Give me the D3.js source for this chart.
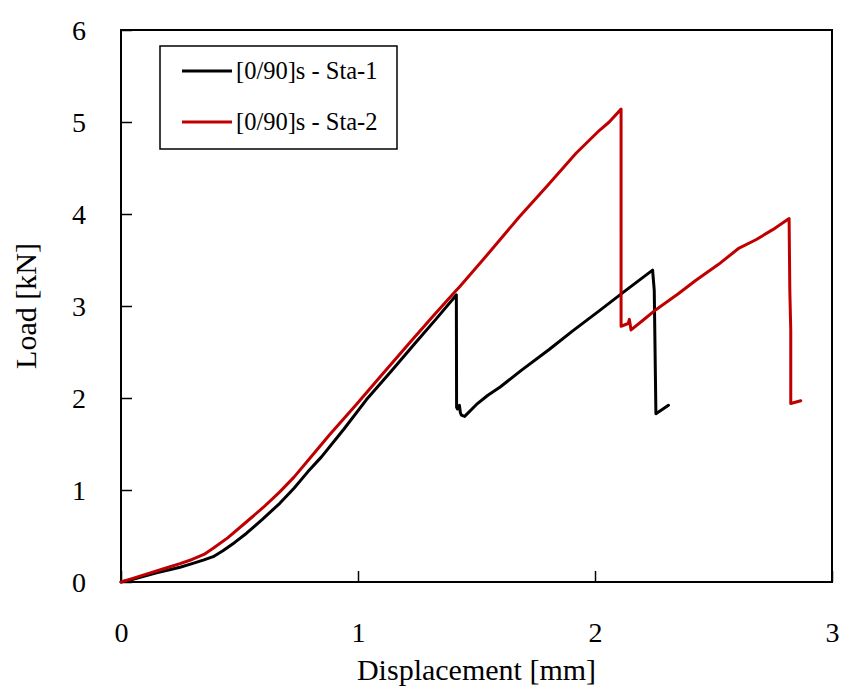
<!DOCTYPE html>
<html><head><meta charset="utf-8">
<script src="https://cdn.jsdelivr.net/npm/d3@7/dist/d3.min.js"></script>
<style>body{margin:0;background:#fff}svg{display:block}</style>
</head><body><svg id="c" width="845" height="687"></svg>
<script>
const seriesNames = ["[0/90]s - Sta-1", "[0/90]s - Sta-2"];
const sta1X = [0,0.05,0.1,0.15,0.2,0.249,0.3,0.35,0.389,0.43,0.48,0.53,0.6,0.67,0.73,0.789,0.846,0.94,1.035,1.14,1.239,1.33,1.415,1.416,1.42,1.428,1.432,1.436,1.45,1.5,1.548,1.6,1.689,1.808,1.906,2.019,2.13,2.243,2.25,2.257,2.31];
const sta1Y = [0,0.03,0.065,0.10,0.13,0.16,0.2,0.24,0.275,0.34,0.43,0.53,0.69,0.855,1.02,1.2,1.36,1.66,1.98,2.29,2.59,2.86,3.12,1.90,1.88,1.92,1.84,1.815,1.80,1.93,2.03,2.12,2.30,2.53,2.73,2.95,3.17,3.39,3.17,1.83,1.92];
const sta2X = [0,0.05,0.1,0.15,0.2,0.249,0.3,0.35,0.389,0.45,0.53,0.6,0.67,0.73,0.789,0.88,0.993,1.1,1.218,1.32,1.415,1.429,1.55,1.681,1.8,1.92,2.019,2.06,2.11,2.11,2.14,2.145,2.152,2.2,2.257,2.35,2.426,2.52,2.608,2.679,2.75,2.819,2.822,2.826,2.826,2.868];
const sta2Y = [0,0.04,0.08,0.12,0.16,0.2,0.245,0.3,0.366,0.48,0.655,0.81,0.98,1.14,1.32,1.6,1.93,2.25,2.6,2.9,3.17,3.21,3.57,3.97,4.31,4.66,4.91,5.0,5.14,2.78,2.81,2.855,2.74,2.84,2.96,3.13,3.28,3.45,3.63,3.72,3.83,3.95,3.17,2.74,1.94,1.97];
const xTicks = [0,1,2,3];
const yTicks = [0,1,2,3,4,5,6];
const colors = ["#000000", "#c00000"];

const W=845,H=687, m={l:121,r:13,t:30,b:105};
const svg=d3.select("#c");
const font="'Liberation Serif', 'Times New Roman', serif";
const x=d3.scaleLinear().domain([0,3]).range([m.l,W-m.r]);
const y=d3.scaleLinear().domain([0,6]).range([H-m.b,m.t]);

// frame
svg.append("rect").attr("x",x(0)).attr("y",y(6)).attr("width",x(3)-x(0)).attr("height",y(0)-y(6))
  .attr("fill","none").attr("stroke","#000").attr("stroke-width",2);

// axes with inward ticks
const xAxis=svg.append("g").attr("transform",`translate(0,${y(0)})`)
  .call(d3.axisBottom(x).tickValues(xTicks).tickSize(-11).tickPadding(0).tickFormat(d3.format("d")));
const yAxis=svg.append("g").attr("transform",`translate(${x(0)},0)`)
  .call(d3.axisLeft(y).tickValues(yTicks).tickSize(-11).tickPadding(0).tickFormat(d3.format("d")));
[xAxis,yAxis].forEach(g=>{g.select(".domain").remove();
  g.selectAll(".tick line").attr("stroke","#000").attr("stroke-width",1.5);
  g.selectAll(".tick text").attr("font-family",font).attr("font-size",28).attr("fill","#000");});
xAxis.selectAll(".tick text").attr("y",60).attr("dy","0");
yAxis.selectAll(".tick text").attr("x",-42).attr("dy","0.33em").attr("text-anchor","middle");

svg.append("text").attr("x",(x(0)+x(3))/2).attr("y",680).attr("text-anchor","middle")
  .attr("font-family",font).attr("font-size",30).text("Displacement [mm]");
svg.append("text").attr("transform",`translate(36,${(y(0)+y(6))/2}) rotate(-90)`).attr("text-anchor","middle")
  .attr("font-family",font).attr("font-size",30).text("Load [kN]");

const line=d3.line().x(d=>x(d[0])).y(d=>y(d[1]));
const series=[d3.zip(sta1X,sta1Y), d3.zip(sta2X,sta2Y)];
series.forEach((s,i)=>{
  svg.append("path").datum(s).attr("d",line).attr("fill","none")
    .attr("stroke",colors[i]).attr("stroke-width",3).attr("stroke-linejoin","round").attr("stroke-linecap","round");
});

// legend
const lg=svg.append("g");
lg.append("rect").attr("x",160).attr("y",46).attr("width",237).attr("height",103)
  .attr("fill","#fff").attr("stroke","#000").attr("stroke-width",1.5);
seriesNames.forEach((n,i)=>{
  const yy=71+i*51;
  lg.append("line").attr("x1",182).attr("x2",232).attr("y1",yy).attr("y2",yy).attr("stroke",colors[i]).attr("stroke-width",3);
  lg.append("text").attr("x",236).attr("y",yy).attr("dy","0.33em").attr("font-family",font).attr("font-size",24.5).text(n);
});
</script></body></html>
